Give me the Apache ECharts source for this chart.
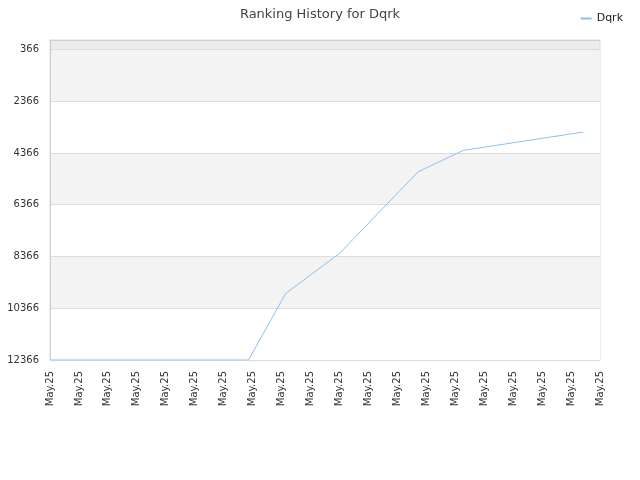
<!DOCTYPE html>
<html>
<head>
<meta charset="utf-8">
<script src="https://cdn.jsdelivr.net/npm/echarts@6/dist/echarts.min.js"></script>
<style>
  html, body { margin: 0; padding: 0; background: #fff; }
  #main { width: 640px; height: 480px; }
</style>
</head>
<body>
<div id="main"></div>
<script>
// x labels: one per week, all the same text in the source
var xTickLabels = ['May.25','May.25','May.25','May.25','May.25','May.25','May.25','May.25','May.25','May.25',
                   'May.25','May.25','May.25','May.25','May.25','May.25','May.25','May.25','May.25','May.25'];
// y ticks (rank, inverted)
var yTicks = [366, 2366, 4366, 6366, 8366, 10366, 12366];
// day index of each point, and rank on that day
var days  = [0,     48,    57,   70,   89,   100,  129];
var ranks = [12366, 12366, 9792, 8249, 5093, 4263, 3557];

var chart = echarts.init(document.getElementById('main'));

var points = [];
for (var i = 0; i < days.length; i++) {
  points.push([days[i], ranks[i]]);
}

chart.setOption({
  animation: false,
  textStyle: { fontFamily: 'DejaVu Sans' },
  title: {
    text: 'Ranking History for Dqrk',
    left: 'center',
    top: 3,
    textStyle: { fontSize: 13, fontWeight: 'normal', color: '#444' }
  },
  legend: {
    right: 12,
    top: 8,
    icon: 'rect',
    itemWidth: 11,
    itemHeight: 2,
    itemGap: 6,
    textStyle: { fontSize: 11, color: '#222' },
    data: ['Dqrk']
  },
  grid: {
    left: 50, right: 40, top: 40, bottom: 120,
    show: true,
    backgroundColor: '#ececec',
    borderColor: '#dddddd',
    borderWidth: 1
  },
  xAxis: {
    type: 'value',
    min: 0,
    max: (xTickLabels.length - 1) * 7,
    interval: 7,
    axisLine: { show: true, lineStyle: { color: '#d0d0d0' } },
    axisTick: { show: false },
    splitLine: { show: false },
    axisLabel: {
      rotate: 90,
      fontSize: 10,
      color: '#333',
      margin: 11,
      formatter: function (v) { return xTickLabels[Math.round(v / 7)]; }
    }
  },
  yAxis: {
    type: 'value',
    inverse: true,
    min: 0,
    max: 12366,
    axisLine: { show: true, lineStyle: { color: '#d0d0d0' } },
    axisTick: { show: false, customValues: yTicks },
    axisLabel: {
      fontSize: 10, color: '#333', margin: 11, customValues: yTicks,
      formatter: function (v) { return String(v); }
    },
    splitLine: { show: true, lineStyle: { color: '#dddddd' } },
    splitArea: { show: true, areaStyle: { color: ['#f3f3f3', '#ffffff'] } }
  },
  series: [{
    name: 'Dqrk',
    type: 'line',
    data: points,
    symbol: 'none',
    lineStyle: { color: '#8dc0f2', width: 1 },
    itemStyle: { color: '#8dc0f2' }
  }]
});
</script>
</body>
</html>
